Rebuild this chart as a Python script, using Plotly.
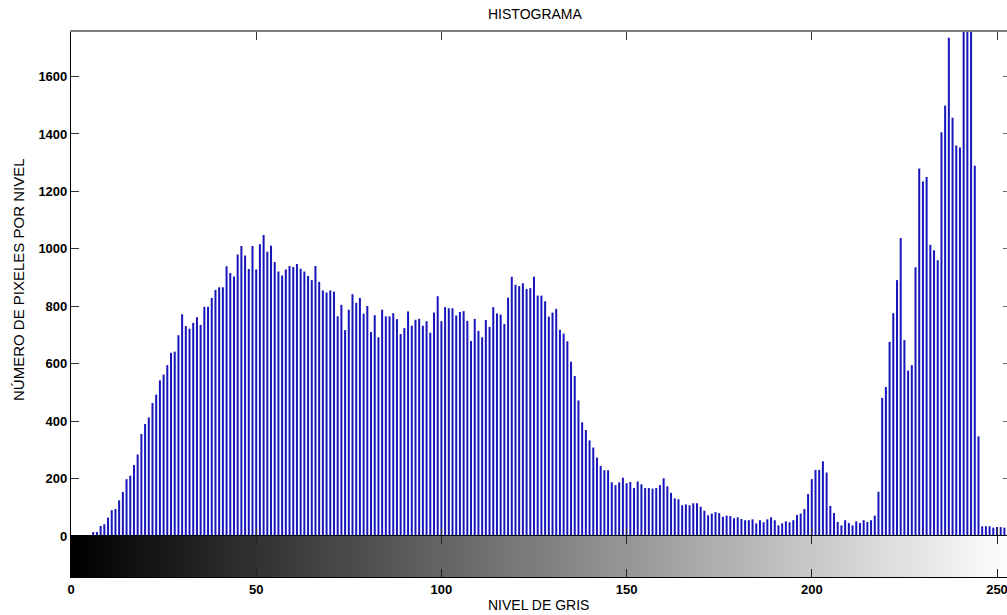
import numpy as np
import plotly.graph_objects as go

# ---------------- data ----------------
levels = list(range(256))
counts = [
    0, 0, 0, 3, 3, 3, 14, 14, 35, 41,
    64, 90, 94, 124, 153, 198, 210, 247, 284, 355,
    390, 413, 463, 492, 542, 562, 595, 638, 642, 699,
    772, 731, 722, 742, 762, 735, 798, 798, 829, 857,
    866, 866, 939, 916, 904, 980, 1010, 977, 930, 1010,
    928, 1016, 1048, 990, 1011, 954, 921, 907, 928, 940,
    937, 947, 931, 921, 905, 891, 940, 885, 855, 848,
    855, 851, 765, 805, 717, 788, 842, 812, 829, 774,
    801, 710, 769, 692, 788, 765, 765, 776, 755, 703,
    724, 782, 732, 753, 756, 732, 748, 708, 778, 835,
    748, 797, 793, 793, 768, 780, 783, 749, 679, 756,
    714, 692, 752, 728, 797, 775, 771, 738, 830, 903,
    875, 870, 880, 860, 863, 903, 837, 837, 817, 764,
    778, 791, 718, 705, 678, 607, 557, 472, 396, 369,
    333, 308, 273, 244, 229, 229, 187, 177, 187, 203,
    184, 188, 167, 190, 180, 167, 167, 165, 167, 177,
    201, 173, 150, 131, 128, 107, 110, 107, 114, 114,
    102, 88, 72, 78, 83, 80, 67, 71, 69, 62,
    65, 59, 55, 55, 58, 44, 55, 48, 58, 65,
    55, 37, 44, 51, 48, 55, 73, 78, 94, 146,
    198, 230, 230, 260, 221, 105, 80, 49, 37, 55,
    45, 37, 51, 45, 55, 49, 55, 71, 154, 481,
    519, 676, 776, 891, 1038, 682, 576, 595, 936, 1280,
    1234, 1250, 1014, 995, 960, 1406, 1499, 1735, 1456, 1360,
    1353, 1950, 2200, 1900, 1289, 347, 34, 34, 34, 29,
    31, 31, 29, 28, 28, 30,
]
xtick_vals = [0, 50, 100, 150, 200, 250]
ytick_vals = [0, 200, 400, 600, 800, 1000, 1200, 1400, 1600]

title_text = "HISTOGRAMA"
xlabel_text = "NIVEL DE GRIS"
ylabel_text = "NÚMERO DE PIXELES POR NIVEL"

# ---------------- styles ----------------
x_range = [0, 252.7]
y_range = [0, 1755]
bar_dom = 41 / 545  # share of plot height used by the gray-level bar
stem_color = "#1616bc"
tick_font = dict(family="Liberation Sans, Arial, sans-serif", size=13, color="black", weight="bold")
label_font = dict(family="Liberation Sans, Arial, sans-serif", size=14, color="black")

# stems built from the data
stem_x, stem_y = [], []
for lv, c in zip(levels, counts):
    stem_x += [lv, lv, None]
    stem_y += [0, c, None]

fig = go.Figure()
fig.add_trace(go.Scatter(x=stem_x, y=stem_y, mode="lines",
                         line=dict(color=stem_color, width=2),
                         xaxis="x", yaxis="y", hoverinfo="skip", showlegend=False))
fig.add_trace(go.Scatter(x=[levels[0], levels[-1]], y=[0, 0], mode="lines",
                         line=dict(color="#1a1a50", width=1.2),
                         xaxis="x", yaxis="y", hoverinfo="skip", showlegend=False))
# empty trace to show right-hand ticks
fig.add_trace(go.Scatter(x=[None], y=[None], xaxis="x", yaxis="y3",
                         hoverinfo="skip", showlegend=False))
# gray-level bar
fig.add_trace(go.Heatmap(z=[levels], x=np.linspace(levels[0], levels[-1], len(levels) + 1),
                         y=[0, 1], colorscale=[[0, "#000000"], [1, "#ffffff"]],
                         showscale=False, zsmooth=False, xaxis="x2", yaxis="y2",
                         hoverinfo="skip"))

fig.update_layout(
    width=1007, height=615,
    margin=dict(l=71, r=0, t=32, b=38),
    paper_bgcolor="white", plot_bgcolor="white",
    showlegend=False,
    xaxis=dict(domain=[0, 1], anchor="y", range=x_range, tickvals=xtick_vals,
               ticks="inside", ticklen=8, tickcolor="#333333", showticklabels=False,
               showline=True, linecolor="#808080", linewidth=1.5, mirror="ticks",
               showgrid=False, zeroline=False),
    yaxis=dict(domain=[bar_dom, 1], anchor="x", range=y_range, tickvals=ytick_vals,
               ticks="inside", ticklen=8, tickcolor="#333333", tickfont=tick_font,
               showline=True, linecolor="black", linewidth=1.2,
               showgrid=False, zeroline=False),
    yaxis3=dict(overlaying="y", side="right", anchor="x", range=y_range,
                tickvals=ytick_vals, ticks="inside", ticklen=4, tickcolor="#666666",
                showticklabels=False, showline=False, showgrid=False, zeroline=False),
    xaxis2=dict(domain=[0, 1], anchor="y2", matches="x", range=x_range, tickvals=xtick_vals,
                ticks="inside", ticklen=8, tickcolor="#222222", tickfont=tick_font,
                ticklabeloverflow="allow",
                showline=True, linecolor="black", linewidth=1.2, mirror="ticks",
                showgrid=False, zeroline=False),
    yaxis2=dict(domain=[0, bar_dom], anchor="x2", range=[0, 1], showticklabels=False,
                ticks="", showline=True, linecolor="black", linewidth=1.2,
                showgrid=False, zeroline=False),
    annotations=[
        dict(text=title_text, xref="paper", yref="paper", x=(535 - 71) / 936,
             y=1 + (32 - 14) / 545, xanchor="center", yanchor="middle",
             showarrow=False, font=label_font),
        dict(text=xlabel_text, xref="paper", yref="paper", x=(538 - 71) / 936,
             y=-(605 - 577) / 545, xanchor="center", yanchor="middle",
             showarrow=False, font=label_font),
        dict(text=ylabel_text, xref="paper", yref="paper", x=(18 - 71) / 936,
             y=(577 - 280) / 545, xanchor="center", yanchor="middle", textangle=-90,
             showarrow=False, font=dict(label_font, size=15)),
    ],
)

fig.write_html("out.html")
